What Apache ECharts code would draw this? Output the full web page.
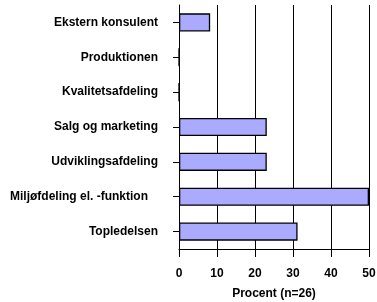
<!DOCTYPE html>
<html><head><meta charset="utf-8">
<script src="https://cdn.jsdelivr.net/npm/echarts@6/dist/echarts.min.js"></script>
<style>html,body{margin:0;padding:0;background:#fff}#c{width:377px;height:302px}</style>
</head><body><div id="c"></div>
<script>
const categories = ["Ekstern konsulent","Produktionen","Kvalitetsafdeling","Salg og marketing","Udviklingsafdeling","Miljøfdeling el. -funktion   ","Topledelsen"];
const values = [8.2, 0, 0, 23.1, 23.1, 50, 31.2];
const xTicks = [0, 10, 20, 30, 40, 50];
const xTitle = "Procent (n=26)";

const font = "Liberation Sans";
const chart = echarts.init(document.getElementById('c'), null, {renderer:'canvas'});
chart.setOption({
  animation:false,
  grid:{left:179, right:8, top:5, bottom:53, containLabel:false, outerBoundsMode:'none'},
  xAxis:{type:'value', min:xTicks[0], max:xTicks[xTicks.length-1], interval:10,
    name:xTitle, nameLocation:'middle', nameGap:39,
    nameTextStyle:{fontFamily:font, fontWeight:'bold', fontSize:12, color:'#000'},
    axisLine:{show:true, lineStyle:{color:'#000', width:1}},
    axisTick:{show:true, length:8, lineStyle:{color:'#000', width:1}},
    axisLabel:{fontFamily:font, fontWeight:'bold', fontSize:12, color:'#000', margin:19},
    splitLine:{show:true, lineStyle:{color:'#000', width:1}}
  },
  yAxis:{type:'category', data:categories, inverse:true,
    axisLine:{show:true, lineStyle:{color:'#000', width:1}},
    axisTick:{show:true, alignWithLabel:true, length:6, lineStyle:{color:'#000', width:1}},
    axisLabel:{fontFamily:font, fontWeight:'bold', fontSize:12, color:'#000', margin:21},
    splitLine:{show:false}
  },
  series:[{type:'bar', data:values, barWidth:'52%',
    itemStyle:{color:'#aaaaff', borderColor:'#000', borderWidth:1.3}}]
});
</script></body></html>
